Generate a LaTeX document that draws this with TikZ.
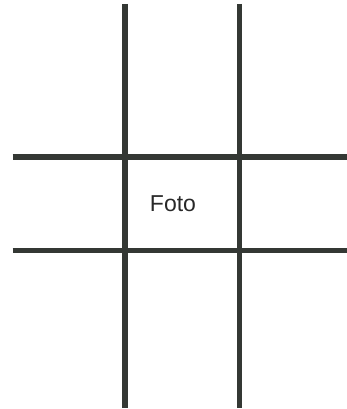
\documentclass[tikz,border=0pt]{standalone}
\usepackage{fontspec}
\setmainfont{Liberation Sans}
\definecolor{gridgray}{RGB}{52,56,52}
\definecolor{textgray}{RGB}{40,40,40}
\tikzset{gridline/.style={draw=gridgray,line width=5.5pt}}
\begin{document}
\begin{tikzpicture}[x=1pt,y=-1pt]
\useasboundingbox (0,0) rectangle (347,409);
\coordinate (v1t) at (125,4);
\coordinate (v1b) at (125,408);
\coordinate (v2t) at (239.5,4);
\coordinate (v2b) at (239.5,408);
\coordinate (h1l) at (12.5,157);
\coordinate (h1r) at (347,157);
\coordinate (h2l) at (12.5,250.5);
\coordinate (h2r) at (347,250.5);
\draw[gridline] (v1t) -- (v1b);
\draw[gridline] (v2t) -- (v2b);
\draw[gridline] (h1l) -- (h1r);
\draw[gridline] (h2l) -- (h2r);
\node[text=textgray,font=\fontsize{23}{27}\selectfont,inner sep=0pt] (foto) at (173,204) {Foto};
\end{tikzpicture}
\end{document}
